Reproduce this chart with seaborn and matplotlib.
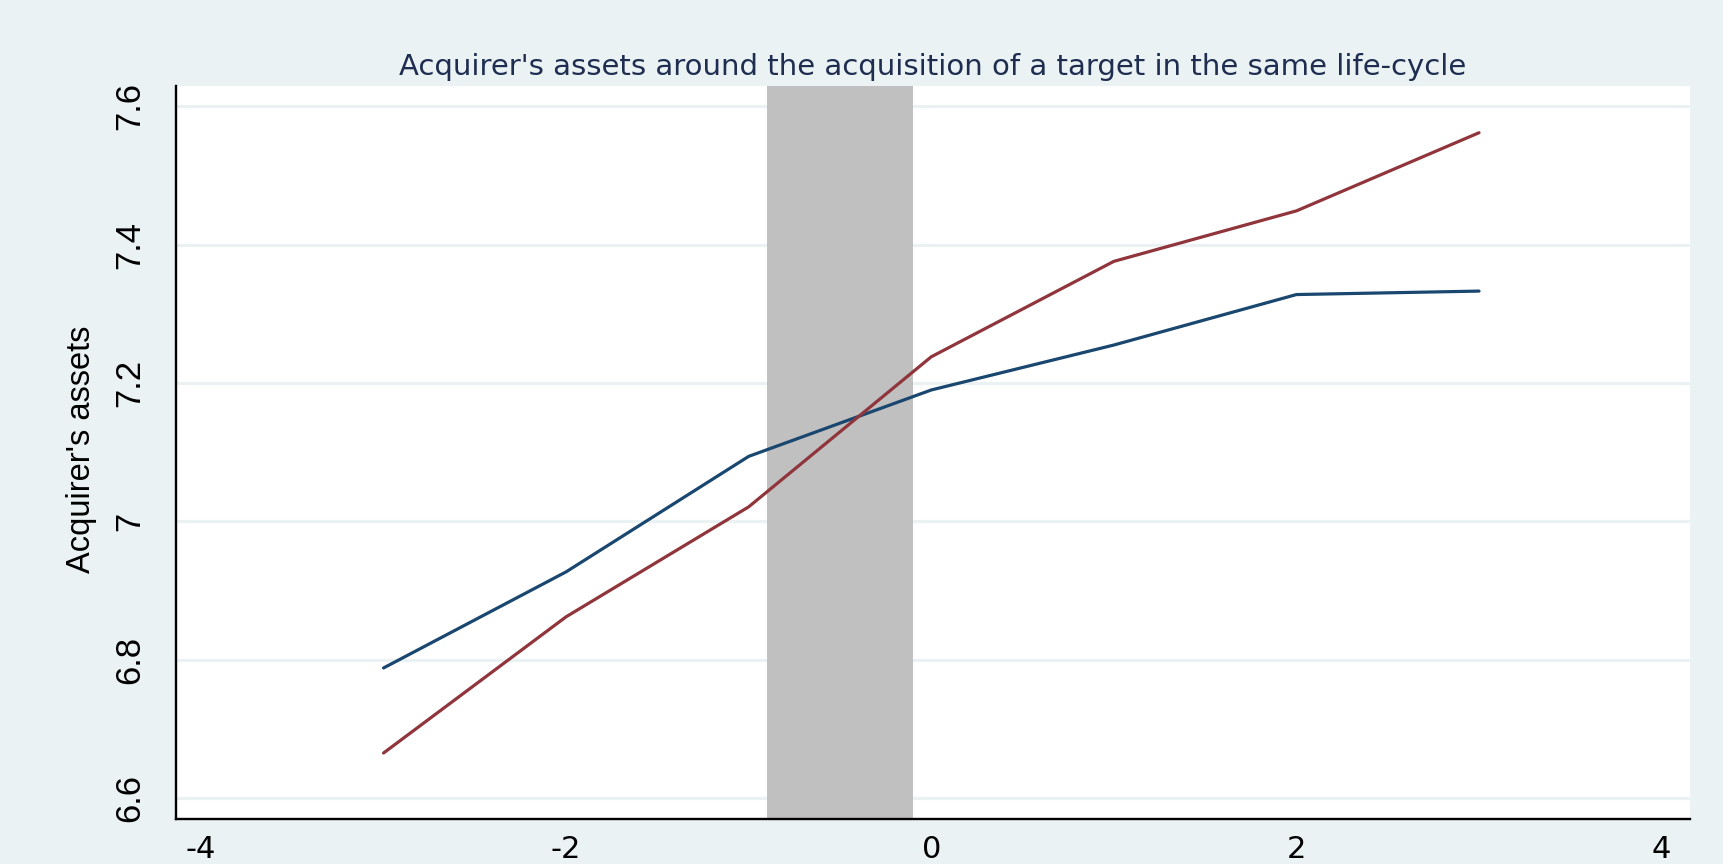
import pandas as pd
import matplotlib.pyplot as plt
import seaborn as sns

# event time relative to the acquisition
years = [-3, -2, -1, 0, 1, 2, 3]
# two groups of acquirers (Stata navy / maroon)
assets_blue = [6.788, 6.927, 7.094, 7.190, 7.255, 7.328, 7.333]
assets_red = [6.665, 6.862, 7.021, 7.238, 7.376, 7.449, 7.562]
shade_span = (-0.9, -0.1)

yticks = [6.6, 6.8, 7.0, 7.2, 7.4, 7.6]
ytick_labels = ['6.6', '6.8', '7', '7.2', '7.4', '7.6']
xticks = [-4, -2, 0, 2, 4]

df = pd.DataFrame({
    'year': years + years,
    'assets': assets_blue + assets_red,
    'group': ['blue'] * len(years) + ['red'] * len(years),
})

sns.set_theme(style='white')
plt.rcParams['font.family'] = ['DejaVu Sans']
vert_font = ['Liberation Sans', 'DejaVu Sans']

bg = '#eaf2f3'
fig = plt.figure(figsize=(17.23, 8.64), dpi=100, facecolor=bg)
ax = fig.add_axes([0.102, 0.0524, 0.879, 0.8484])
ax.set_facecolor('white')

# horizontal grid lines
for yv in yticks:
    ax.axhline(yv, color=bg, lw=2.2, zorder=0)

ax.axvspan(shade_span[0], shade_span[1], color='#c0c0c0', lw=0, zorder=1)

sns.lineplot(data=df, x='year', y='assets', hue='group',
             palette={'blue': '#1a476f', 'red': '#90353b'},
             lw=2.3, legend=False, ax=ax, zorder=3)

ax.set_xlim(-4.138, 4.157)
ax.set_ylim(6.570, 7.630)
ax.set_xticks(xticks)
ax.set_xticklabels([str(v) for v in xticks], fontsize=22, color='black')
ax.set_yticks(yticks)
ax.set_yticklabels(ytick_labels, fontsize=25, rotation=90, va='center',
                   family=vert_font, color='black')

ax.tick_params(axis='y', length=11.5, width=1.4, color='black', pad=9.6)
ax.tick_params(axis='x', length=8.6, width=1.4, color='black', pad=3.0)

for side in ['top', 'right']:
    ax.spines[side].set_visible(False)
for side in ['left', 'bottom']:
    ax.spines[side].set_color('black')
    ax.spines[side].set_linewidth(1.7)

ax.set_xlabel('')
ax.set_ylabel("Acquirer's assets", fontsize=23.5, family=vert_font, color='black')
ax.yaxis.set_label_coords(-0.0522, 0.5037)
ax.set_title("Acquirer's assets around the acquisition of a target in the same life-cycle",
             fontsize=21, color='#1e2d50', pad=7.7)

fig.savefig('out.png', dpi=100, facecolor=bg)
